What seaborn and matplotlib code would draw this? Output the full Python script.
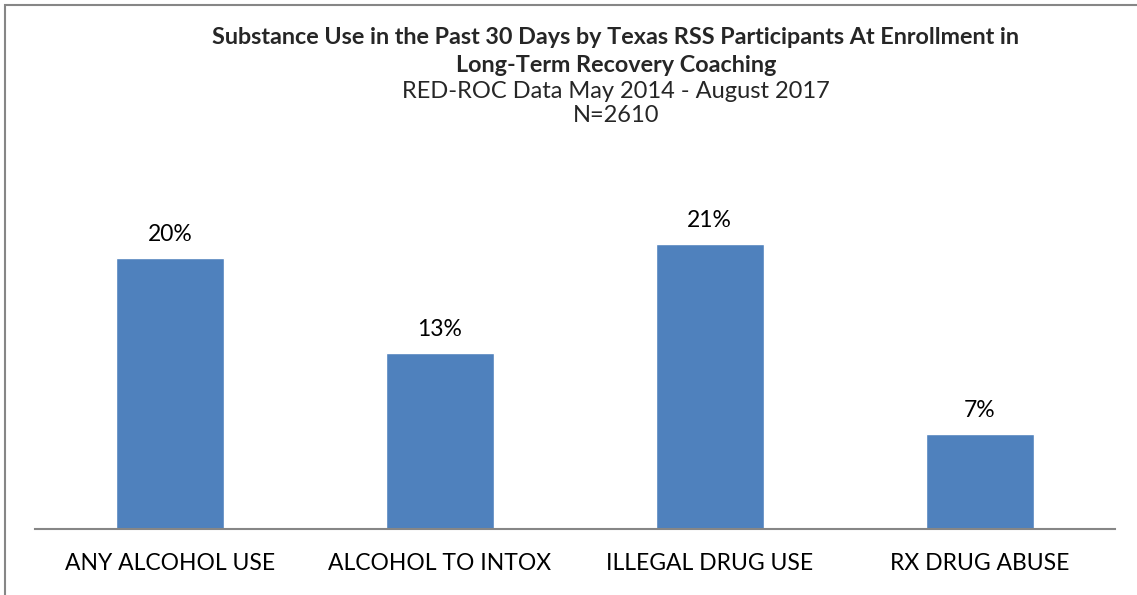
import matplotlib
matplotlib.use("Agg")
import matplotlib.pyplot as plt
import seaborn as sns
import pandas as pd
from matplotlib.patches import Rectangle

categories = ["ANY ALCOHOL USE", "ALCOHOL TO INTOX", "ILLEGAL DRUG USE", "RX DRUG ABUSE"]
values = [20, 13, 21, 7]
value_labels = ["20%", "13%", "21%", "7%"]
title_lines = ["Substance Use in the Past 30 Days by Texas RSS Participants At Enrollment in",
               "Long-Term Recovery Coaching"]
subtitle_lines = ["RED-ROC Data May 2014 - August 2017", "N=2610"]

sns.set_style("white")
plt.rcParams['font.family'] = ['Lato', 'DejaVu Sans']

df = pd.DataFrame({"cat": categories, "val": values})

W, H = 1137, 595
fig = plt.figure(figsize=(W / 100, H / 100), dpi=100)
ax = fig.add_axes([35 / W, 1 - 529 / H, (1114.5 - 35) / W, (529 - 189.7) / H])

sns.barplot(data=df, x="cat", y="val", color="#4F81BD", saturation=1, width=0.4, ax=ax)
ax.set_ylim(0, 25)
ax.set_xlim(-0.5, 3.5)
ax.bar_label(ax.containers[0], labels=value_labels, padding=9, fontsize=16.5, color="#000000")

ax.set_xlabel("")
ax.set_ylabel("")
ax.set_yticks([])
ax.tick_params(axis="x", length=0, pad=17, labelsize=16.5, labelcolor="#000000")
for s in ["top", "right", "left"]:
    ax.spines[s].set_visible(False)
ax.spines["bottom"].set_color("#868686")
ax.spines["bottom"].set_linewidth(1.5)

# titles
cx = 616 / W
fig.text(cx, 1 - 38 / H, title_lines[0], ha="center", va="center", fontsize=16.8, fontweight="bold")
fig.text(cx, 1 - 65 / H, title_lines[1], ha="center", va="center", fontsize=16.8, fontweight="bold")
fig.text(cx, 1 - 91 / H, subtitle_lines[0], ha="center", va="center", fontsize=17)
fig.text(cx, 1 - 116 / H, subtitle_lines[1], ha="center", va="center", fontsize=17)

# outer chart border (cropped on the right and bottom)
fig.patches.append(Rectangle((5 / W, -0.1), 1.2, 1.1 - 5 / H, transform=fig.transFigure,
                             fill=False, edgecolor="#868686", linewidth=1.5))

fig.savefig("out.png", dpi=100)
